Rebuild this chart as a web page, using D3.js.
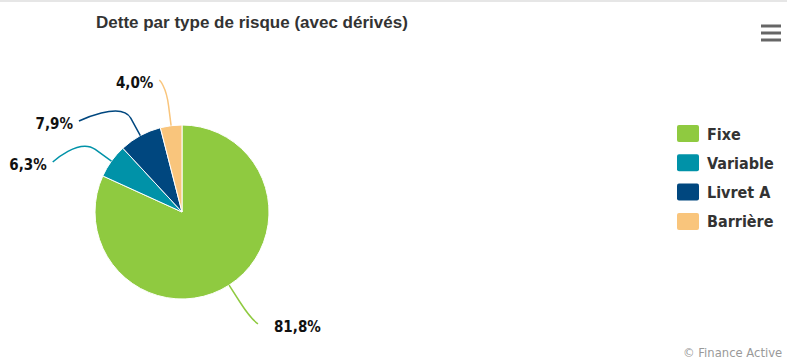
<!DOCTYPE html>
<html lang="fr">
  <head>
    <meta charset="UTF-8" />
    <title>Dette par type de risque</title>
    <script src="https://d3js.org/d3.v7.min.js"></script>
    <style>
      body { margin: 0; background: #fff; }
      svg text { fill: #333; }
    </style>
  </head>
  <body></body>
  <script type="text/javascript">
    var width = 787,
      height = 360;

    // données
    var categories = ['Fixe', 'Variable', 'Livret A', 'Barrière'];
    var values = [81.8, 6.3, 7.9, 4.0];
    var colors = ['#8fca40', '#0092a8', '#00477f', '#f9c57c'];

    var cx = 182,
      cy = 212,
      r = 87;

    var svg = d3.select('body').append('svg')
      .attr('width', width)
      .attr('height', height);

    // bordure grise en haut
    svg.append('rect')
      .attr('x', 0).attr('y', 0)
      .attr('width', width).attr('height', 2)
      .attr('fill', '#e6e6e6');

    svg.append('text')
      .attr('x', 96)
      .attr('y', 28)
      .style('font-family', '"Liberation Sans Narrow", "Liberation Sans", Arial, sans-serif')
      .style('font-weight', 'bold')
      .style('font-size', '17px')
      .text('Dette par type de risque (avec dérivés)');

    var pie = d3.pie().sort(null).value(d => d);
    var arcs = pie(values);
    var arc = d3.arc().innerRadius(0).outerRadius(r);

    var g = svg.append('g').attr('transform', `translate(${cx},${cy})`);
    g.selectAll('path')
      .data(arcs)
      .enter()
      .append('path')
      .attr('d', arc)
      .attr('fill', (d, i) => colors[i])
      .attr('stroke', '#fff')
      .attr('stroke-width', 1);

    // étiquettes façon highcharts
    var labelR = r + 46;
    function pt(a, rad) {
      var m = (a.startAngle + a.endAngle) / 2;
      return [cx + rad * Math.sin(m), cy - rad * Math.cos(m)];
    }
    var labels = arcs.map((a, i) => {
      var m = (a.startAngle + a.endAngle) / 2;
      return { i: i, a: a, left: Math.sin(m) < 0, y: pt(a, labelR)[1] };
    });
    var leftLabels = labels.filter(l => l.left).sort((a, b) => a.y - b.y);
    for (var k = 1; k < leftLabels.length; k++) {
      leftLabels[k].y = Math.max(leftLabels[k].y, leftLabels[k - 1].y + 41);
    }
    labels.forEach(l => {
      var dy = Math.max(-labelR, Math.min(labelR, l.y - cy));
      l.x = cx + (l.left ? -1 : 1) * Math.sqrt(labelR * labelR - dy * dy);
    });

    var fmt = v => d3.format('.1f')(v).replace('.', ',') + '%';

    labels.forEach(l => {
      var edge = pt(l.a, r);
      var brk = pt(l.a, r + 20);
      var c2 = [2 * brk[0] - edge[0], 2 * brk[1] - edge[1]];
      var sx = l.left ? l.x - 6 : l.x + 4;
      var p = d3.path();
      p.moveTo(sx, l.y);
      p.bezierCurveTo(sx, l.y, c2[0], c2[1], brk[0], brk[1]);
      p.lineTo(edge[0], edge[1]);
      svg.append('path')
        .attr('d', p.toString())
        .attr('fill', 'none')
        .attr('stroke', colors[l.i])
        .attr('stroke-width', 1.5);

      svg.append('text')
        .attr('x', l.left ? l.x - 12 : l.x + 20)
        .attr('y', l.y + 3)
        .attr('dominant-baseline', 'central')
        .attr('text-anchor', l.left ? 'end' : 'start')
        .style('font-family', '"DejaVu Sans Condensed", "DejaVu Sans", Verdana, sans-serif')
        .style('font-weight', 'bold')
        .style('font-size', '15px')
        .style('fill', '#111')
        .text(fmt(values[l.i]));
    });

    // légende
    var legend = svg.append('g').attr('transform', 'translate(677,125)');
    var row = legend.selectAll('g')
      .data(categories)
      .enter()
      .append('g')
      .attr('transform', (d, i) => `translate(0,${i * 29.3})`);
    row.append('rect')
      .attr('width', 22)
      .attr('height', 17)
      .attr('rx', 2)
      .attr('fill', (d, i) => colors[i]);
    row.append('text')
      .attr('x', 30)
      .attr('y', 9)
      .attr('dominant-baseline', 'central')
      .style('font-family', '"DejaVu Sans Condensed", "DejaVu Sans", Verdana, sans-serif')
      .style('font-weight', 'bold')
      .style('font-size', '16px')
      .text(d => d);

    // menu
    var menu = svg.append('g').attr('stroke', '#666').attr('stroke-width', 3);
    [26, 33, 40].forEach(y => {
      menu.append('line').attr('x1', 761).attr('x2', 781).attr('y1', y).attr('y2', y);
    });

    svg.append('text')
      .attr('x', 683)
      .attr('y', 357)
      .style('font-family', '"DejaVu Sans", Verdana, sans-serif')
      .style('font-size', '11.6px')
      .style('fill', '#999')
      .text('© Finance Active');
  </script>
</html>
